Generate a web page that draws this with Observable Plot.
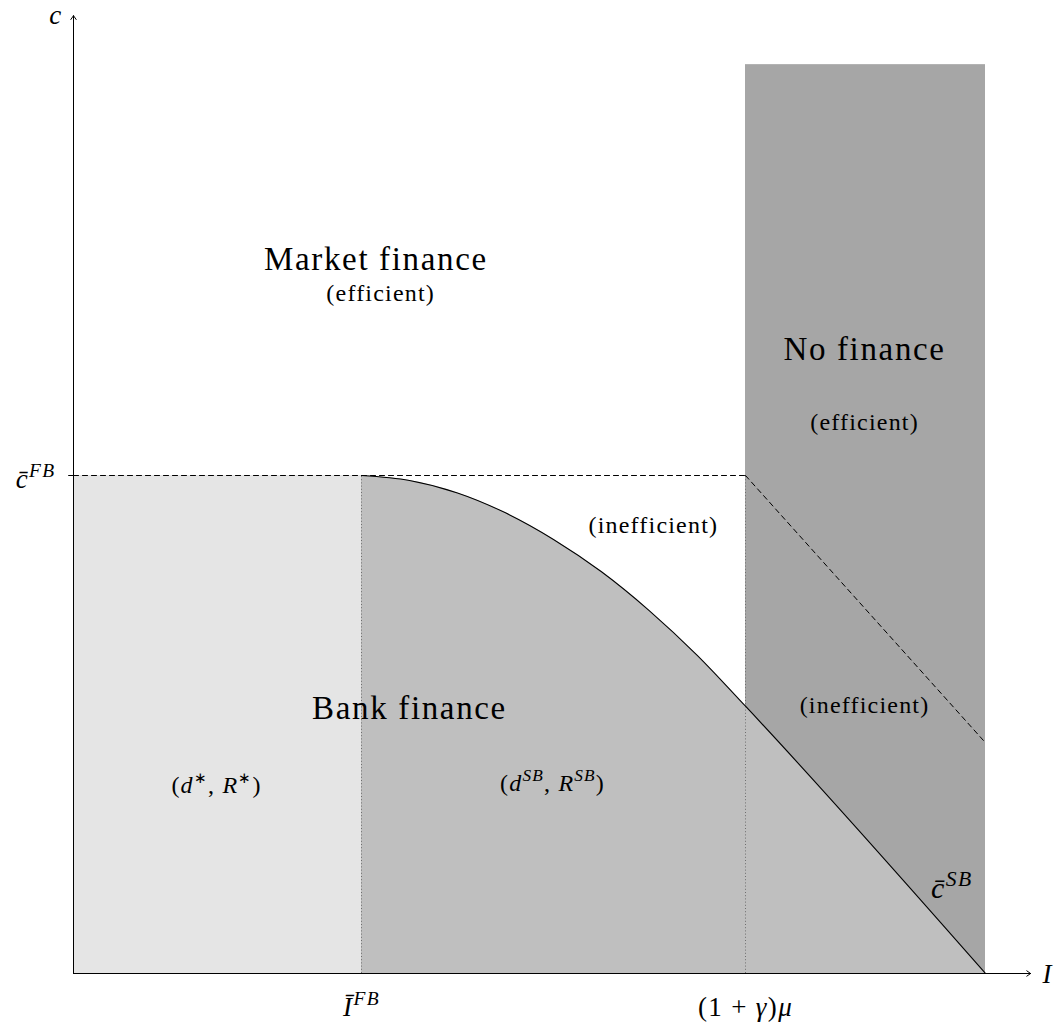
<!DOCTYPE html>
<html><head><meta charset="utf-8">
<script src="https://cdn.jsdelivr.net/npm/d3@7"></script>
<script src="https://cdn.jsdelivr.net/npm/@observablehq/plot@0.6"></script>
<style>
body{margin:0;background:#fff}
svg text{letter-spacing:0.05em}
</style>
</head><body><div id="chart"></div>
<script>
// ---- data (arbitrary model units) ----
const I_FB = 3;          // \bar I^{FB}
const I_MU = 7;          // (1+gamma) mu
const I_END = 9.5;       // end of c^SB line
const C_FB = 6;          // \bar c^{FB}
const C_TOP = 10.95;     // top of "no finance" band
const AXIS_X_END = 9.97;
const AXIS_Y_END = 11.54;

// boundary between bank finance and market finance (curve then straight \bar c^{SB})
const boundaryI = [3, 3.5, 4, 4.5, 5, 5.5, 6, 6.5, 7, 9.5];
const boundaryC = [6, 5.94, 5.79, 5.55, 5.23, 4.84, 4.37, 3.83, 3.22, 0];

// dashed continuation lines
const dashFlatI = [0, 7];
const dashFlatC = [6, 6];
const dashDiagI = [7, 9.5];
const dashDiagC = [6, 2.78];

// tick labels (value + label)
const xTickValues = [I_FB, I_MU];
const xTickLabels = ["<i>Ī</i><sup>FB</sup>", "(1 + <i>γ</i>)<i>μ</i>"];
const yTickValues = [C_FB];
const yTickLabels = ["<i>c\u0304</i><sup>FB</sup>"];

// region annotations (data coordinates)
const titleText = ["Market finance", "No finance", "Bank finance"];
const titleI = [3.15, 8.24, 3.5];
const titleC = [8.60, 7.52, 3.19];

const noteText = ["(efficient)", "(efficient)", "(inefficient)", "(inefficient)",
  "(<i>d</i><su>∗</su>, <i>R</i><su>∗</su>)", "(<i>d</i><sup>SB</sup>, <i>R</i><sup>SB</sup>)"];
const noteI = [3.2, 8.24, 6.04, 8.24, 1.49, 4.99];
const noteC = [8.20, 6.64, 5.40, 3.23, 2.27, 2.29];

const curveLabelText = ["<i>c\u0304</i><sup>SB</sup>"];
const curveLabelI = [9.15];
const curveLabelC = [1.02];

// ---- build tables ----
const boundary = boundaryI.map((d, i) => ({I: d, c: boundaryC[i]}));
const dashFlat = dashFlatI.map((d, i) => ({I: d, c: dashFlatC[i]}));
const dashDiag = dashDiagI.map((d, i) => ({I: d, c: dashDiagC[i]}));
const xTicks = xTickValues.map((v, i) => ({v, label: xTickLabels[i]}));
const yTicks = yTickValues.map((v, i) => ({v, label: yTickLabels[i]}));
const titles = titleText.map((t, i) => ({t, I: titleI[i], c: titleC[i]}));
const notes = noteText.map((t, i) => ({t, I: noteI[i], c: noteC[i]}));
const curveLabels = curveLabelText.map((t, i) => ({t, I: curveLabelI[i], c: curveLabelC[i]}));

const FONT = "Liberation Serif";

const svg = Plot.plot({
  width: 1062,
  height: 1023,
  x: {domain: [0, 10], range: [73, 1033], axis: null},
  y: {domain: [0, 11], range: [973, 60], axis: null},
  style: {background: "white", color: "black"},
  marks: [
    Plot.rect([{x1: 0, x2: I_FB, y1: 0, y2: C_FB}], {x1: "x1", x2: "x2", y1: "y1", y2: "y2", fill: "#e5e5e5"}),
    Plot.rect([{x1: I_MU, x2: I_END, y1: 0, y2: C_TOP}], {x1: "x1", x2: "x2", y1: "y1", y2: "y2", fill: "#a6a6a6"}),
    Plot.areaY(boundary, {x: "I", y: "c", fill: "#bfbfbf", curve: "monotone-x"}),
    Plot.ruleX([I_FB, I_MU], {y1: 0, y2: C_FB, stroke: "#6e6e6e", strokeWidth: 1, strokeDasharray: "1,2.2"}),
    Plot.line(dashFlat, {x: "I", y: "c", stroke: "black", strokeWidth: 1, strokeDasharray: "5,4"}),
    Plot.line(dashDiag, {x: "I", y: "c", stroke: "black", strokeWidth: 1, strokeDasharray: "5,4"}),
    Plot.line(boundary, {x: "I", y: "c", stroke: "black", strokeWidth: 1.1, curve: "monotone-x"}),
    Plot.ruleY(yTicks, {y: "v", x1: -0.05, x2: 0, stroke: "black", strokeWidth: 1}),
    Plot.arrow([{x1: 0, y1: 0, x2: AXIS_X_END, y2: 0}, {x1: 0, y1: 0, x2: 0, y2: AXIS_Y_END}],
      {x1: "x1", y1: "y1", x2: "x2", y2: "y2", stroke: "black", strokeWidth: 1, headLength: 7, headAngle: 70}),
    Plot.text(["c"], {x: 0, y: AXIS_Y_END, text: d => d, textAnchor: "end", dx: -11, fontSize: 27, fontStyle: "italic", fontFamily: FONT}),
    Plot.text(["I"], {x: AXIS_X_END, y: 0, text: d => d, textAnchor: "start", dx: 12, dy: 1, fontSize: 27, fontStyle: "italic", fontFamily: FONT}),
    Plot.text(xTicks, {x: "v", y: 0, text: "label", dy: 34, fontSize: 27, fontFamily: FONT}),
    Plot.text(yTicks, {x: 0, y: "v", text: "label", textAnchor: "end", dx: -18, dy: 4, fontSize: 27, fontFamily: FONT}),
    Plot.text(titles, {x: "I", y: "c", text: "t", fontSize: 33, fontFamily: FONT}),
    Plot.text(notes, {x: "I", y: "c", text: "t", fontSize: 24, fontFamily: FONT}),
    Plot.text(curveLabels, {x: "I", y: "c", text: "t", fontSize: 30, fontFamily: FONT})
  ]
});

document.getElementById("chart").appendChild(svg);

// turn the small inline markup into real tspans (italic, superscripts)
function richify(root) {
  root.querySelectorAll("text").forEach(t => {
    const s = t.textContent;
    if (!s.includes("<")) return;
    const fs = parseFloat(getComputedStyle(t).fontSize) || 24;
    while (t.firstChild) t.removeChild(t.firstChild);
    const re = /<(i|sup|su)>(.*?)<\/\1>|([^<]+)/g;
    let m, shift = 0;
    while ((m = re.exec(s))) {
      const ts = document.createElementNS("http://www.w3.org/2000/svg", "tspan");
      let target = 0;
      if (m[3] !== undefined) {
        ts.textContent = m[3];
      } else {
        ts.textContent = m[2];
        if (m[1] === "i" || m[1] === "sup") ts.setAttribute("font-style", "italic");
        if (m[1] === "sup") { ts.setAttribute("font-size", fs * 0.72); target = -fs * 0.42; }
        if (m[1] === "su") { ts.setAttribute("font-size", fs * 0.62); target = -fs * 0.4; }
      }
      if (target !== shift) { ts.setAttribute("dy", target - shift); shift = target; }
      t.appendChild(ts);
    }
  });
}
richify(svg);
</script>
</body></html>
